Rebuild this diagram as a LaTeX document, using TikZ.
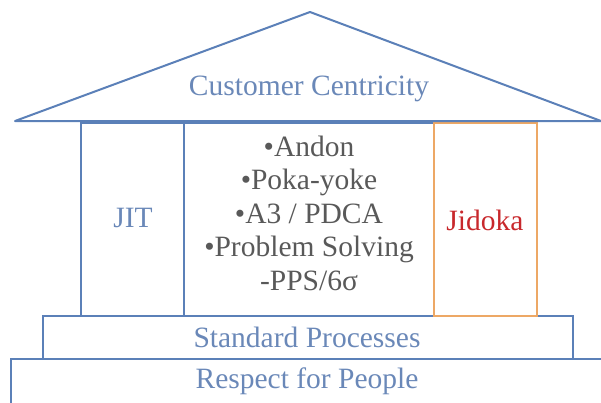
\documentclass[tikz,border=0pt]{standalone}
\usepackage{fontspec}
\setmainfont{Liberation Serif}
\definecolor{lineblue}{HTML}{5B80B8}
\definecolor{textblue}{HTML}{6A88B8}
\definecolor{textgray}{HTML}{595959}
\definecolor{jidred}{HTML}{C8282C}
\definecolor{orangeline}{HTML}{EDA865}
\tikzset{
  part/.style={draw=lineblue, line width=2pt, inner sep=0pt},
  lbl/.style={inner sep=0pt, font=\fontsize{29.5}{33.5}\selectfont},
  pillar/.style={part, minimum width=103pt, minimum height=193pt},
  basebox/.style={part, anchor=north west},
}
\begin{document}
\begin{tikzpicture}[x=1pt,y=-1pt]
\useasboundingbox (0,0) rectangle (601,402);
\clip (0,0) rectangle (601,402);
% base
\node[basebox, minimum width=600pt, minimum height=50pt] (respect) at (10,358) {};
\node[lbl, text=textblue] (respectlbl) at (307,381) {Respect for People};
\node[basebox, minimum width=530pt, minimum height=43pt] (standard) at (42,315) {};
\node[lbl, text=textblue] (standardlbl) at (307,337) {Standard Processes};
% pillars
\node[pillar, anchor=north west] (jit) at (80,122) {};
\node[lbl, text=textblue] (jitlbl) at (133,218) {JIT};
\node[part, anchor=north west, minimum width=250pt, minimum height=193pt] (mid) at (183,122) {};
\node[lbl, text=textgray, align=center] (midlbl) at (309,213)
  {•Andon\\•Poka-yoke\\•A3 / PDCA\\•Problem Solving\\-PPS/6σ};
\node[pillar, draw=orangeline, anchor=north west] (jidoka) at (433,122) {};
\node[lbl, text=jidred] (jidokalbl) at (485,220) {Jidoka};
% roof
\coordinate (rl) at (15,121);
\coordinate (apex) at (310,12);
\coordinate (rr) at (601,121);
\draw[draw=lineblue, line width=2pt, line join=round, fill=white] (rl) -- (apex) -- (rr) -- cycle;
\node[lbl, text=textblue] (roof) at (309,89) {Customer Centricity};
\end{tikzpicture}
\end{document}
